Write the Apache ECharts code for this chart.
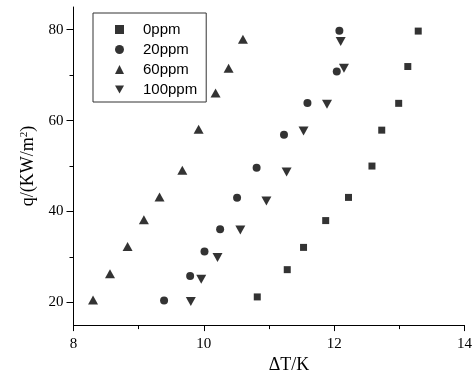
<!DOCTYPE html>
<html>
<head>
<meta charset="utf-8">
<script src="https://cdn.jsdelivr.net/npm/echarts@6/dist/echarts.min.js"></script>
<style>
  html, body { margin: 0; padding: 0; background: #fff; }
  #main { width: 475px; height: 379px; }
</style>
</head>
<body>
<div id="main"></div>
<script>
// ΔT (K) and q (KW/m2)
var ppm0X = [10.82, 11.28, 11.53, 11.87, 12.22, 12.58, 12.73, 12.99, 13.13, 13.29];
var ppm0Y = [21.2, 27.2, 32.1, 38.0, 43.1, 50.0, 57.9, 63.8, 71.9, 79.7];
var ppm20X = [9.39, 9.79, 10.01, 10.25, 10.51, 10.81, 11.23, 11.59, 12.04, 12.08];
var ppm20Y = [20.4, 25.8, 31.2, 36.1, 43.0, 49.6, 56.9, 63.9, 70.8, 79.8];
var ppm60X = [8.30, 8.56, 8.83, 9.08, 9.32, 9.67, 9.92, 10.18, 10.38, 10.60];
var ppm60Y = [20.5, 26.3, 32.3, 38.2, 43.2, 49.1, 58.1, 66.1, 71.5, 77.9];
var ppm100X = [9.80, 9.96, 10.21, 10.56, 10.96, 11.27, 11.53, 11.89, 12.15, 12.10];
var ppm100Y = [20.2, 25.1, 29.9, 35.9, 42.3, 48.7, 57.7, 63.6, 71.5, 77.4];

var yMajorTicks = [20, 40, 60, 80];
var yMinorTicks = [30, 50, 70];

function pairs(xs, ys) {
  return xs.map(function (x, i) { return [x, ys[i]]; });
}

var serif = '"Liberation Serif", "DejaVu Serif", serif';
var sans = '"Liberation Sans", Arial, sans-serif';

var chart = echarts.init(document.getElementById('main'));

var option = {
  animation: false,
  backgroundColor: '#fff',
  grid: { left: 73.5, right: 8.5, top: 7, bottom: 52, containLabel: false },
  legend: {
    orient: 'vertical',
    left: 93,
    top: 13,
    padding: [9, 9, 5, 22],
    itemWidth: 9,
    itemHeight: 9,
    itemGap: 5,
    borderColor: '#333',
    borderWidth: 1,
    textStyle: { fontFamily: sans, fontSize: 15, color: '#000', lineHeight: 14.5, padding: [0, 0, 0, 14] },
    data: ['0ppm', '20ppm', '60ppm', '100ppm']
  },
  xAxis: {
    type: 'value',
    min: 8,
    max: 14,
    interval: 2,
    name: 'ΔT/K',
    nameLocation: 'middle',
    nameGap: 28,
    nameTextStyle: { fontFamily: serif, fontSize: 18, color: '#000', padding: [0, 0, 0, 40] },
    axisLine: { show: true, lineStyle: { color: '#000', width: 1 } },
    axisTick: { show: true, length: 6, lineStyle: { color: '#000' } },
    minorTick: { show: true, splitNumber: 2, length: 4, lineStyle: { color: '#000' } },
    axisLabel: { fontFamily: serif, fontSize: 15, color: '#000', margin: 11 },
    splitLine: { show: false },
    minorSplitLine: { show: false }
  },
  yAxis: [
    {
      type: 'value',
      min: 15,
      max: 85,
      name: '{a|q/(KW/m}{s|2}{a|)}',
      nameLocation: 'middle',
      nameGap: 35,
      nameRotate: 90,
      nameTextStyle: {
        rich: {
          a: { fontFamily: serif, fontSize: 18, color: '#000' },
          s: { fontFamily: serif, fontSize: 11, color: '#000', verticalAlign: 'top', padding: [0, 0, 8, 0] }
        }
      },
      axisLine: { show: true, lineStyle: { color: '#000', width: 1 } },
      axisTick: { show: true, length: 7, customValues: yMajorTicks, lineStyle: { color: '#000' } },
      axisLabel: { fontFamily: serif, fontSize: 15, color: '#000', margin: 10, customValues: yMajorTicks },
      splitLine: { show: false }
    },
    {
      type: 'value',
      min: 15,
      max: 85,
      position: 'left',
      axisLine: { show: false },
      axisTick: { show: true, length: 4, customValues: yMinorTicks, lineStyle: { color: '#000' } },
      axisLabel: { show: false },
      splitLine: { show: false }
    }
  ],
  series: [
    {
      name: '0ppm', type: 'scatter', symbol: 'rect', symbolSize: 7,
      itemStyle: { color: '#000' }, data: pairs(ppm0X, ppm0Y)
    },
    {
      name: '20ppm', type: 'scatter', symbol: 'circle', symbolSize: 8,
      itemStyle: { color: '#000' }, data: pairs(ppm20X, ppm20Y)
    },
    {
      name: '60ppm', type: 'scatter', symbol: 'triangle', symbolSize: [10, 9],
      itemStyle: { color: '#000' }, data: pairs(ppm60X, ppm60Y)
    },
    {
      name: '100ppm', type: 'scatter', symbol: 'path://M0,0 L10,0 L5,9 Z', symbolSize: [10, 9],
      itemStyle: { color: '#000' }, data: pairs(ppm100X, ppm100Y)
    }
  ]
};

chart.setOption(option);
</script>
</body>
</html>
